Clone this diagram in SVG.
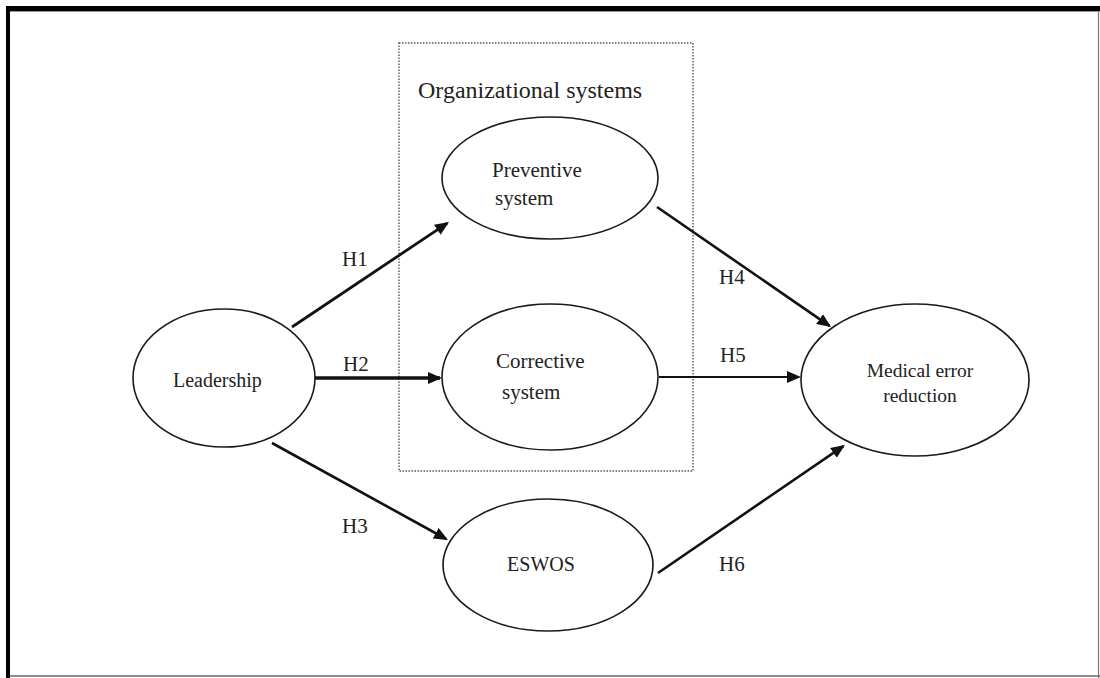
<svg xmlns="http://www.w3.org/2000/svg" width="1100" height="678" viewBox="0 0 1100 678">
  <style>
    .node ellipse { fill: #ffffff; stroke: #1a1a1a; stroke-width: 1.6; }
    .lbl { font-family: "Liberation Serif", "Times New Roman", serif; font-size: 20px; fill: #222222; }
    .hyp { font-family: "Liberation Serif", "Times New Roman", serif; font-size: 21px; fill: #222222; }
    .edge { stroke: #111111; fill: none; marker-end: url(#head); }
  </style>
  <defs>
    <marker id="head" markerUnits="userSpaceOnUse" markerWidth="16" markerHeight="14" refX="12" refY="6" orient="auto">
      <path d="M0,0 L14,6 L0,12 z" fill="#111111"/>
    </marker>
  </defs>

  <rect x="0" y="0" width="1100" height="678" fill="#ffffff"/>

  <!-- frame -->
  <g id="frame">
    <line x1="6" y1="8.5" x2="1100" y2="8.5" stroke="#000000" stroke-width="5"/>
    <line x1="6" y1="11.5" x2="1100" y2="11.5" stroke="#9a9a9a" stroke-width="1"/>
    <line x1="8" y1="6" x2="8" y2="678" stroke="#000000" stroke-width="4"/>
    <line x1="1098.5" y1="11" x2="1098.5" y2="678" stroke="#777777" stroke-width="1.2"/>
    <line x1="10" y1="676" x2="1100" y2="676" stroke="#666666" stroke-width="1.5"/>
  </g>

  <!-- organizational systems group box -->
  <g id="org-systems">
    <rect x="399" y="43" width="294" height="428" fill="none" stroke="#555555" stroke-width="1.4" stroke-dasharray="1.5 1.5"/>
    <text class="lbl" x="418" y="98" style="font-size:24px">Organizational systems</text>
  </g>

  <!-- connectors -->
  <g id="connectors">
    <line class="edge" x1="292" y1="327" x2="447.3" y2="223.1" stroke-width="2.8"/>
    <line class="edge" x1="315" y1="378" x2="440" y2="378" stroke-width="3.4"/>
    <line class="edge" x1="272" y1="443" x2="446.2" y2="539" stroke-width="2.6"/>
    <line class="edge" x1="657" y1="207" x2="829.4" y2="325.9" stroke-width="2.6"/>
    <line class="edge" x1="659" y1="377" x2="799" y2="377" stroke-width="2"/>
    <line class="edge" x1="658" y1="573" x2="843.3" y2="446.1" stroke-width="2.6"/>
    <text class="hyp" x="342" y="266">H1</text>
    <text class="hyp" x="343" y="371">H2</text>
    <text class="hyp" x="342" y="533">H3</text>
    <text class="hyp" x="719" y="284">H4</text>
    <text class="hyp" x="720" y="362">H5</text>
    <text class="hyp" x="719" y="571">H6</text>
  </g>

  <!-- nodes -->
  <g id="leadership" class="node">
    <ellipse cx="224" cy="378" rx="91" ry="69"/>
    <text class="lbl" x="173" y="387">Leadership</text>
  </g>
  <g id="preventive" class="node">
    <ellipse cx="550" cy="178" rx="108" ry="61"/>
    <text class="lbl" x="492" y="177" style="font-size:21px">Preventive</text>
    <text class="lbl" x="495" y="205" style="font-size:21px">system</text>
  </g>
  <g id="corrective" class="node">
    <ellipse cx="550" cy="377" rx="108" ry="73"/>
    <text class="lbl" x="496" y="368" style="font-size:21px">Corrective</text>
    <text class="lbl" x="502" y="399" style="font-size:21px">system</text>
  </g>
  <g id="eswos" class="node">
    <ellipse cx="548" cy="565" rx="105" ry="66"/>
    <text class="lbl" x="541" y="571" text-anchor="middle">ESWOS</text>
  </g>
  <g id="medical-error" class="node">
    <ellipse cx="915" cy="380" rx="114" ry="76"/>
    <text class="lbl" x="920" y="377" text-anchor="middle" style="font-size:19.5px">Medical error</text>
    <text class="lbl" x="920" y="402" text-anchor="middle" style="font-size:19.5px">reduction</text>
  </g>
</svg>
